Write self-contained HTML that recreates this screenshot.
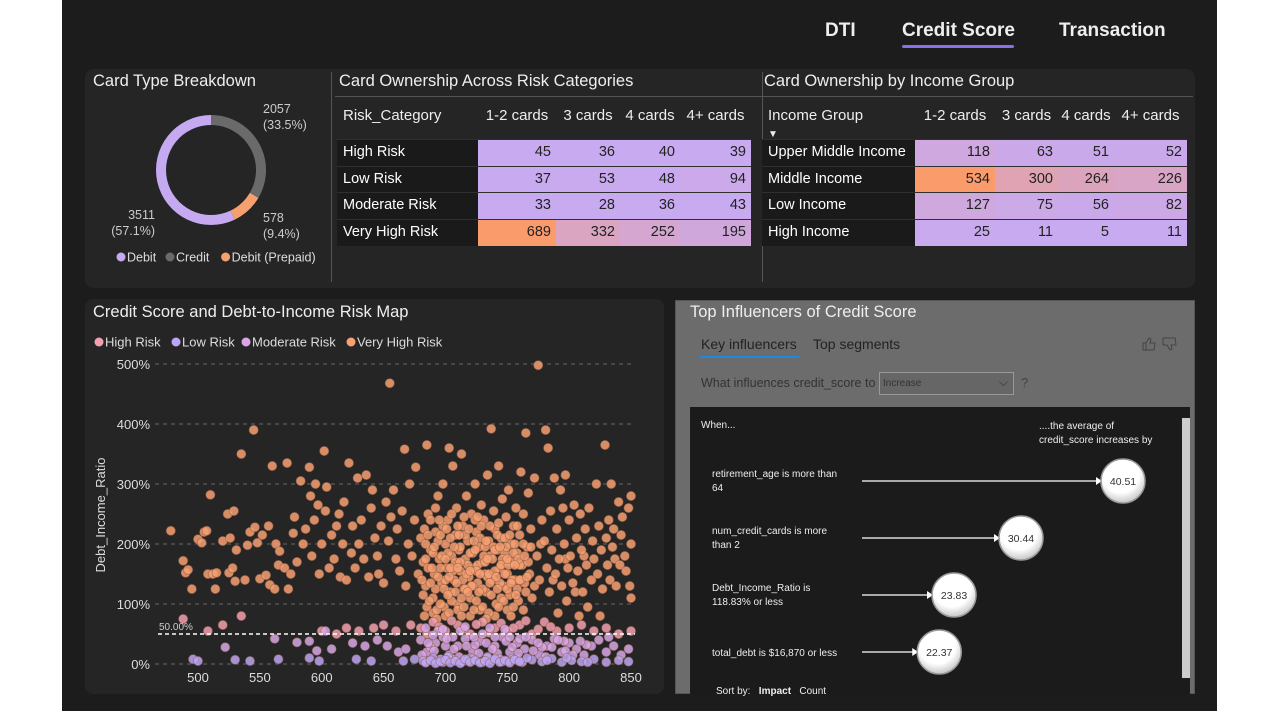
<!DOCTYPE html>
<html><head><meta charset="utf-8">
<style>
*{margin:0;padding:0;box-sizing:border-box}
body{width:1280px;height:720px;background:#fff;font-family:"Liberation Sans",sans-serif;position:relative;overflow:hidden}
#bg{position:absolute;left:62px;top:0;width:1155px;height:711px;background:#1c1c1c}
.abs{position:absolute}
.panel{position:absolute;background:#252525;border-radius:8px}
.t{position:absolute;color:#eee;white-space:nowrap}
</style></head><body>
<div id="bg"></div>
<div class="t" style="left:825px;top:20px;font-size:19px;font-weight:bold">DTI</div>
<div class="t" style="left:902px;top:20px;font-size:19px;font-weight:bold">Credit Score</div>
<div class="abs" style="left:902px;top:45px;width:112px;height:3px;background:#8b6fe8;border-radius:2px"></div>
<div class="t" style="left:1059px;top:20px;font-size:19px;font-weight:bold">Transaction</div>

<div class="panel" style="left:85px;top:69px;width:1110px;height:219px"></div>
<div class="t" style="left:93px;top:72px;font-size:16.5px">Card Type Breakdown</div>
<div class="abs" style="left:331px;top:72px;width:1px;height:210px;background:#555"></div>
<div class="abs" style="left:762px;top:72px;width:1px;height:210px;background:#555"></div>
<div class="abs" style="left:335px;top:96px;width:858px;height:1px;background:#555"></div>
<div class="t" style="left:339px;top:72px;font-size:16.5px">Card Ownership Across Risk Categories</div>
<div class="t" style="left:764px;top:72px;font-size:16.5px">Card Ownership by Income Group</div>

<svg class="abs" style="left:85px;top:69px" width="250" height="210" id="donut"></svg>
<div id="tables"></div>

<div class="panel" style="left:85px;top:299px;width:579px;height:395px"></div>
<div class="t" style="left:93px;top:303px;font-size:16.5px">Credit Score and Debt-to-Income Risk Map</div>
<svg class="abs" style="left:85px;top:330px" width="579" height="360" id="scatter"></svg>

<div class="abs" style="left:675px;top:300px;width:520px;height:394px;background:#6c6c6c;border:1px solid #555"></div>
<div class="t" style="left:690px;top:303px;font-size:16.5px">Top Influencers of Credit Score</div>
<div class="t" style="left:701px;top:336px;font-size:14px;color:#222">Key influencers</div>
<div class="abs" style="left:700px;top:356px;width:99px;height:2px;background:#1e88e5"></div>
<div class="t" style="left:813px;top:336px;font-size:14px;color:#222">Top segments</div>
<svg class="abs" style="left:1141px;top:336px" width="40" height="16"><path d="M2,7h3v7h-3z M5,7l3,-5 2,1 -1,4h5l-1,7h-8" fill="none" stroke="#444" stroke-width="1"/><path d="M22,2h12l1,7h-5l1,4 -2,1 -3,-5h-4z" fill="none" stroke="#444" stroke-width="1"/></svg>
<div class="t" style="left:701px;top:376px;font-size:12.5px;color:#333">What influences credit_score to</div>
<div class="abs" style="left:879px;top:372px;width:135px;height:23px;border:1px solid #999;background:#666;font-size:10px;color:#333;padding:5px 3px">Increase<span style="position:absolute;right:5px;top:2px;font-size:12px">⌵</span></div>
<div class="t" style="left:1021px;top:375px;font-size:13px;color:#444">?</div>
<div class="abs" style="left:690px;top:407px;width:500px;height:287px;background:#1b1b1b"></div>
<div class="abs" style="left:1182px;top:418px;width:8px;height:260px;background:#ccc"></div>
<div class="t" style="left:701px;top:420px;font-size:10px">When...</div>
<div class="t" style="left:1039px;top:420px;font-size:10px;line-height:14px">....the average of<br>credit_score increases by</div>
<svg class="abs" style="left:690px;top:407px" width="500" height="287" id="infl"></svg>
<div class="t" style="left:716px;top:686px;font-size:10px">Sort by: &nbsp; <b>Impact</b> &nbsp; Count</div>

<script>
const NS='http://www.w3.org/2000/svg';
function mk(tag,attrs,parent){const e=document.createElementNS(NS,tag);for(const k in attrs)e.setAttribute(k,attrs[k]);parent.appendChild(e);return e;}

/* ---------- Donut ---------- */
const cardTypes=['Debit','Credit','Debit (Prepaid)'];
const cardCounts=[3511,2057,578];
const cardPcts=['57.1%','33.5%','9.4%'];
const cardColors=['#c5aaf2','#6a6a6a','#f6a070'];
(function(){
 const svg=document.getElementById('donut');
 const cx=126,cy=101,ro=55,ri=45,total=cardCounts.reduce((a,b)=>a+b,0);
 const order=[1,2,0];let a0=0;
 order.forEach(i=>{
  const a1=a0+cardCounts[i]/total*Math.PI*2;
  const p=(a,r)=>[cx+r*Math.sin(a),cy-r*Math.cos(a)];
  const large=(a1-a0)>Math.PI?1:0;
  const [x1,y1]=p(a0,ro),[x2,y2]=p(a1,ro),[x3,y3]=p(a1,ri),[x4,y4]=p(a0,ri);
  const path=mk('path',{d:`M${x1},${y1}A${ro},${ro} 0 ${large} 1 ${x2},${y2}L${x3},${y3}A${ri},${ri} 0 ${large} 0 ${x4},${y4}Z`,fill:cardColors[i]},svg);
  
  
  a0=a1;
 });
 const labs=[[178,44,'start',1],[178,153,'start',2],[70,150,'end',0]];
 labs.forEach(([x,y,anc,i])=>{
  const t=mk('text',{x:x,y:y,fill:'#ccc','font-size':12.5,'text-anchor':anc},svg);
  
  
  t.innerHTML=`<tspan x="${x}">${cardCounts[i]}</tspan><tspan x="${x}" dy="16">(${cardPcts[i]})</tspan>`;
 });
 let lx=32;
 cardTypes.forEach((n,i)=>{
  const c=mk('circle',{cx:lx+4,cy:188,r:4.5,fill:cardColors[i]},svg);
  
  
  const t=mk('text',{x:lx+10,y:192.5,fill:'#ddd','font-size':12.5},svg);
  
  
  t.textContent=n;
  lx+=10+n.length*6.6+6;
 });
})();

/* ---------- Tables ---------- */
const cardCols=['1-2 cards','3 cards','4 cards','4+ cards'];
const riskRows=['High Risk','Low Risk','Moderate Risk','Very High Risk'];
const riskVals=[[45,36,40,39],[37,53,48,94],[33,28,36,43],[689,332,252,195]];
const incomeRows=['Upper Middle Income','Middle Income','Low Income','High Income'];
const incomeVals=[[118,63,51,52],[534,300,264,226],[127,75,56,82],[25,11,5,11]];
function heat(v,mn,mx){const t=Math.pow((v-mn)/(mx-mn),1.3);const a=[200,170,241],b=[250,155,108];
 return `rgb(${a.map((x,i)=>Math.round(x+(b[i]-x)*t)).join(',')})`;}
function buildTable(name,left,top,labW,colW,head,rows,vals){
 const host=document.getElementById('tables');
 const all=vals.flat(),mn=Math.min(...all),mx=Math.max(...all);
 const d=document.createElement('div');
 
 
 d.style.cssText=`position:absolute;left:${left}px;top:${top}px`;
 let h=`<div style="display:flex;height:34px;color:#eee;font-size:15px;align-items:flex-start;padding-top:2px"><div style="width:${labW}px;padding-left:6px">${head}</div>`;
 cardCols.forEach((c,i)=>h+=`<div style="width:${colW[i]}px;text-align:center">${c}</div>`);
 h+='</div>';
 rows.forEach((r,ri)=>{
  h+=`<div style="display:flex;height:26.7px;border-top:1px solid #2f2f2f;font-size:14.5px;line-height:25px"><div style="width:${labW}px;padding-left:6px;color:#fff;background:#1a1a1a">${r}</div>`;
  vals[ri].forEach((v,ci)=>h+=`<div style="width:${colW[ci]}px;text-align:right;padding-right:5px;color:#222;background:${heat(v,mn,mx)}">${v}</div>`);
  h+='</div>';
 });
 d.innerHTML=h;host.appendChild(d);
}
buildTable('risk-table',337,105,141,[78,64,60,71],'Risk_Category',riskRows,riskVals);
buildTable('income-table',762,105,153,[80,63,56,73],'Income Group<br><span style="font-size:10px">▼</span>',incomeRows,incomeVals);

/* ---------- Scatter ---------- */
const yTicks=[0,100,200,300,400,500];
const xTicks=[500,550,600,650,700,750,800,850];
const refLine=50;
const veryHighRisk=[[478,222],[488,172],[490,152],[492,157],[495,125],[500,208],[503,202],[505,220],[507,222],[508,150],[510,282],[512,150],[514,125],[515,152],[520,205],[524,250],[525,152],[526,210],[528,160],[529,255],[530,138],[531,190],[535,350],[538,140],[540,198],[542,220],[545,390],[546,228],[548,202],[550,142],[552,215],[555,148],[557,230],[558,132],[560,330],[562,125],[563,200],[565,165],[566,188],[570,160],[572,335],[573,125],[575,150],[577,218],[578,245],[580,170],[583,305],[585,200],[587,225],[590,328],[591,280],[592,180],[594,240],[595,300],[597,265],[598,150],[600,200],[602,355],[603,255],[604,295],[606,160],[608,215],[610,175],[612,230],[614,250],[615,145],[617,200],[618,270],[620,140],[622,335],[624,185],[625,230],[627,160],[629,310],[630,200],[632,240],[634,175],[636,315],[638,145],[640,260],[641,290],[643,210],[645,180],[646,150],[648,230],[650,135],[652,270],[654,205],[655,468],[656,245],[658,290],[660,175],[661,225],[663,155],[665,255],[667,358],[668,130],[670,200],[671,300],[673,180],[675,240],[676,328],[678,150],
[680,210],[682,170],[684,130],[685,365],[686,250],[688,190],[690,110],[691,150],[692,220],[694,280],[695,175],[697,135],[698,300],[699,95],[700,200],[701,160],[702,240],[703,360],[704,120],[705,180],[706,330],[707,140],[708,215],[709,260],[710,100],[711,190],[712,155],[713,350],[714,230],[715,125],[716,175],[717,280],[718,205],[719,145],[720,110],[721,250],[722,185],[723,160],[724,300],[725,220],[726,135],[727,195],[728,90],[729,265],[730,170],[731,240],[732,150],[733,120],[734,315],[735,205],[736,180],[737,392],[738,140],[739,255],[740,225],[741,100],[742,190],[743,330],[744,160],[745,210],[746,275],[747,130],[748,185],[749,245],[750,150],[751,290],[752,115],[753,200],[754,170],[755,230],[756,140],[757,260],[758,185],[759,105],[760,215],[761,320],[762,165],[763,250],[764,135],[765,385],[766,195],[767,285],[768,150],[769,225],[770,110],
[682,115],[684,200],[686,160],[688,240],[690,185],[692,125],[694,205],[696,160],[698,230],[700,140],[702,185],[704,210],[706,155],[708,120],[710,230],[712,195],[714,140],[716,215],[718,165],[720,185],[722,130],[724,240],[726,165],[728,210],[730,125],[732,195],[734,145],[736,230],[738,175],[740,155],[742,215],[744,135],[746,175],[748,210],[750,125],[752,170],[754,140],[756,200],[758,125],[760,165],[690,85],[700,80],[710,90],[720,80],[730,95],[740,80],[750,90],[685,95],[695,240],[705,105],[715,95],[725,105],[735,85],[745,110],[755,95],
[681,140],[683,225],[687,105],[689,160],[691,195],[693,90],[696,215],[697,180],[699,125],[701,225],[703,145],[705,250],[707,195],[709,135],[711,215],[713,110],[715,245],[717,150],[719,225],[721,130],[723,205],[725,155],[727,120],[729,230],[731,180],[733,205],[735,150],[737,115],[739,195],[741,145],[743,235],[745,165],[747,105],[749,195],[751,165],[753,135],[755,185],[757,115],[759,175],[761,140],[763,200],[765,120],[767,170],[769,195],[684,175],[692,260],[700,175],[708,170],[716,125],[724,190],[732,170],[740,190],[748,150],[756,165],[764,180],[688,135],[696,100],[704,160],[712,170],[720,155],[728,150],[736,135],[744,195],[752,215],[760,140],[686,215],[694,145],[702,115],[710,160],[718,120],[726,245],[734,175],[742,125],[750,175],[758,230],[766,145],[683,80],[693,75],[703,85],[713,80],[723,90],[733,75],[743,95],[753,80],[763,90],[772,130],[777,200],[787,140],[797,175],[805,120],[812,180],
[772,310],[774,180],[775,498],[776,140],[778,240],[780,205],[781,390],[782,160],[783,360],[784,120],[785,255],[786,190],[788,310],[789,150],[790,225],[791,85],[792,175],[793,290],[794,130],[795,260],[796,200],[797,315],[798,105],[799,160],[800,240],[801,180],[803,135],[804,265],[806,210],[807,155],[808,80],[809,250],[810,190],[811,120],[813,225],[814,165],[815,95],[816,260],[818,140],[819,205],[820,175],[822,300],[823,150],[824,230],[825,80],[826,190],[827,125],[829,365],[830,210],[831,165],[832,240],[833,140],[834,300],[835,195],[836,225],[837,175],[838,130],[840,270],[841,165],[842,215],[843,245],[845,180],[846,155],[848,260],[849,130],[850,280],[850,200],[850,110]];
const highRisk=[[488,75],[520,65],[535,80],[508,55],[600,55],[612,50],[620,60],[630,55],[642,60],[650,65],[660,55],[672,65],[680,60],[690,70],[700,55],[710,65],[720,50],[730,70],[740,60],[750,55],[760,65],[770,50],[780,70],[790,55],[800,60],[810,65],[820,55],[830,60],[840,50],[850,55],[685,50],[695,62],[705,72],[715,58],[725,66],[735,52],[745,68],[755,60],[765,72],[775,58],[785,62]];
const moderateRisk=[[522,28],[562,42],[580,36],[590,38],[596,22],[603,55],[608,25],[625,35],[635,30],[645,40],[653,30],[662,20],[668,25],[680,40],[685,20],[692,35],[698,45],[703,15],[710,30],[716,42],[722,22],[728,38],[734,12],[740,30],[746,45],[752,20],[758,35],[764,25],[770,40],[776,15],[782,30],[788,42],[794,20],[800,35],[806,25],[812,15],[818,30],[824,40],[830,20],[836,30],[842,15],[848,25],[688,28],[706,45],[724,32],[742,18],[760,42],[778,28],[796,38],[814,32],[832,45],[684,5],[694,55],[712,55],[730,50],[748,58],[700,30],[720,10],[740,45],[758,8],[690,48],
[681,15],[686,35],[691,22],[696,8],[701,42],[707,25],[711,12],[717,30],[723,45],[727,18],[733,35],[738,25],[744,8],[749,38],[754,28],[759,18],[765,45],[771,22],[775,35],[781,12],[786,28],[791,40],[797,22],[803,15],[809,38],[684,60],[698,58],[716,62],[736,60],[752,45]];
const lowRisk=[[496,8],[500,5],[530,7],[542,5],[565,8],[590,10],[598,5],[628,8],[640,5],[666,5],[675,8],[682,5],[690,10],[698,3],[706,8],[714,4],[722,9],[730,3],[738,7],[746,4],[754,9],[762,3],[770,7],[778,4],[786,9],[794,3],[802,6],[810,4],[820,8],[830,3],[840,6],[848,4],[694,4],[702,12],[718,6],[734,11],[750,5],[766,10],[782,6],[798,10],[815,3],
[684,2],[688,6],[692,1],[696,4],[700,7],[704,2],[708,5],[712,1],[716,8],[720,3],[724,6],[728,2],[732,5],[736,1],[740,8],[744,3],[748,6],[752,2],[756,7],[760,4]];
const seriesNames=['High Risk','Low Risk','Moderate Risk','Very High Risk'];
const seriesColors=['#f2a0b0','#bca6f3','#d8a8e6','#f7a072'];
(function(){
 const svg=document.getElementById('scatter');
 const X=v=>113+(v-500)*(433/350), Y=v=>334-v*0.6;
 yTicks.forEach(v=>{
  const l=mk('line',{x1:70,x2:550,y1:Y(v),y2:Y(v),stroke:'#666','stroke-dasharray':'4,4'},svg);
  
  
  const t=mk('text',{x:65,y:Y(v)+5,fill:'#ddd','font-size':13,'text-anchor':'end'},svg);
  
  
  t.textContent=v+'%';
 });
 xTicks.forEach(v=>{
  const t=mk('text',{x:X(v),y:352,fill:'#ddd','font-size':13,'text-anchor':'middle'},svg);
  
  
  t.textContent=v;
 });
 const yt=mk('text',{x:0,y:0,fill:'#ddd','font-size':13,'text-anchor':'middle',transform:'translate(20,185) rotate(-90)'},svg);
 
 
 yt.textContent='Debt_Income_Ratio';
 const draw=(data,col,nm)=>data.forEach(([x,y])=>{
  const c=mk('circle',{cx:X(x),cy:Y(y),r:4.6,fill:col,'fill-opacity':0.85,stroke:'#8a5a45','stroke-opacity':0.6,'stroke-width':0.8},svg);
  
  
 });
 draw(veryHighRisk,seriesColors[3],'point-very-high-risk');
 draw(highRisk,seriesColors[0],'point-high-risk');
 draw(moderateRisk,seriesColors[2],'point-moderate-risk');
 draw(lowRisk,seriesColors[1],'point-low-risk');
 const rl=mk('line',{x1:73,x2:550,y1:Y(refLine),y2:Y(refLine),stroke:'#fff','stroke-width':1.5,'stroke-dasharray':'4,3'},svg);
 
 
 const rt=mk('text',{x:74,y:Y(refLine)-4,fill:'#ccc','font-size':10},svg);
 
 
 rt.textContent=refLine.toFixed(2)+'%';
 let lx=10;
 seriesNames.forEach((n,i)=>{
  const c=mk('circle',{cx:lx+4,cy:12,r:4.5,fill:seriesColors[i]},svg);
  
  
  const t=mk('text',{x:lx+10,y:16.5,fill:'#ddd','font-size':13},svg);
  
  
  t.textContent=n;
  lx+=10+n.length*7+4;
 });
})();

/* ---------- Influencers ---------- */
const inflLabels=[['retirement_age is more than','64'],['num_credit_cards is more','than 2'],['Debt_Income_Ratio is','118.83% or less'],['total_debt is $16,870 or less']];
const inflValues=[40.51,30.44,23.83,22.37];
(function(){
 const svg=document.getElementById('infl');
 const defs=mk('defs',{},svg);
 const g=mk('radialGradient',{id:'bub',cx:'0.45',cy:'0.35',r:'0.7'},defs);
 mk('stop',{offset:'0.6','stop-color':'#fff'},g);mk('stop',{offset:'1','stop-color':'#bbb'},g);
 const V=v=>433+(v-40.51)*10.13;
 inflValues.forEach((v,i)=>{
  const cy=74+i*57, cx=V(v);
  const lab=inflLabels[i];
  const t=mk('text',{x:22,y:lab.length>1?cy-4:cy+4,fill:'#eee','font-size':10},svg);
  
  
  t.innerHTML=lab.map((s,k)=>`<tspan x="22" dy="${k?14:0}">${s}</tspan>`).join('');
  const l=mk('line',{x1:172,x2:cx-26,y1:cy,y2:cy,stroke:'#fff','stroke-width':1.2},svg);
  
  
  mk('path',{d:`M${cx-27},${cy-4}L${cx-21},${cy}L${cx-27},${cy+4}Z`,fill:'#fff'},svg);
  const c=mk('circle',{cx:cx,cy:cy,r:22,fill:'url(#bub)',stroke:'#999','stroke-width':1.5},svg);
  
  
  const vt=mk('text',{x:cx,y:cy+4,fill:'#333','font-size':10.5,'text-anchor':'middle'},svg);
  
  
  vt.textContent=v.toFixed(2);
 });
})();
</script>
</body></html>
